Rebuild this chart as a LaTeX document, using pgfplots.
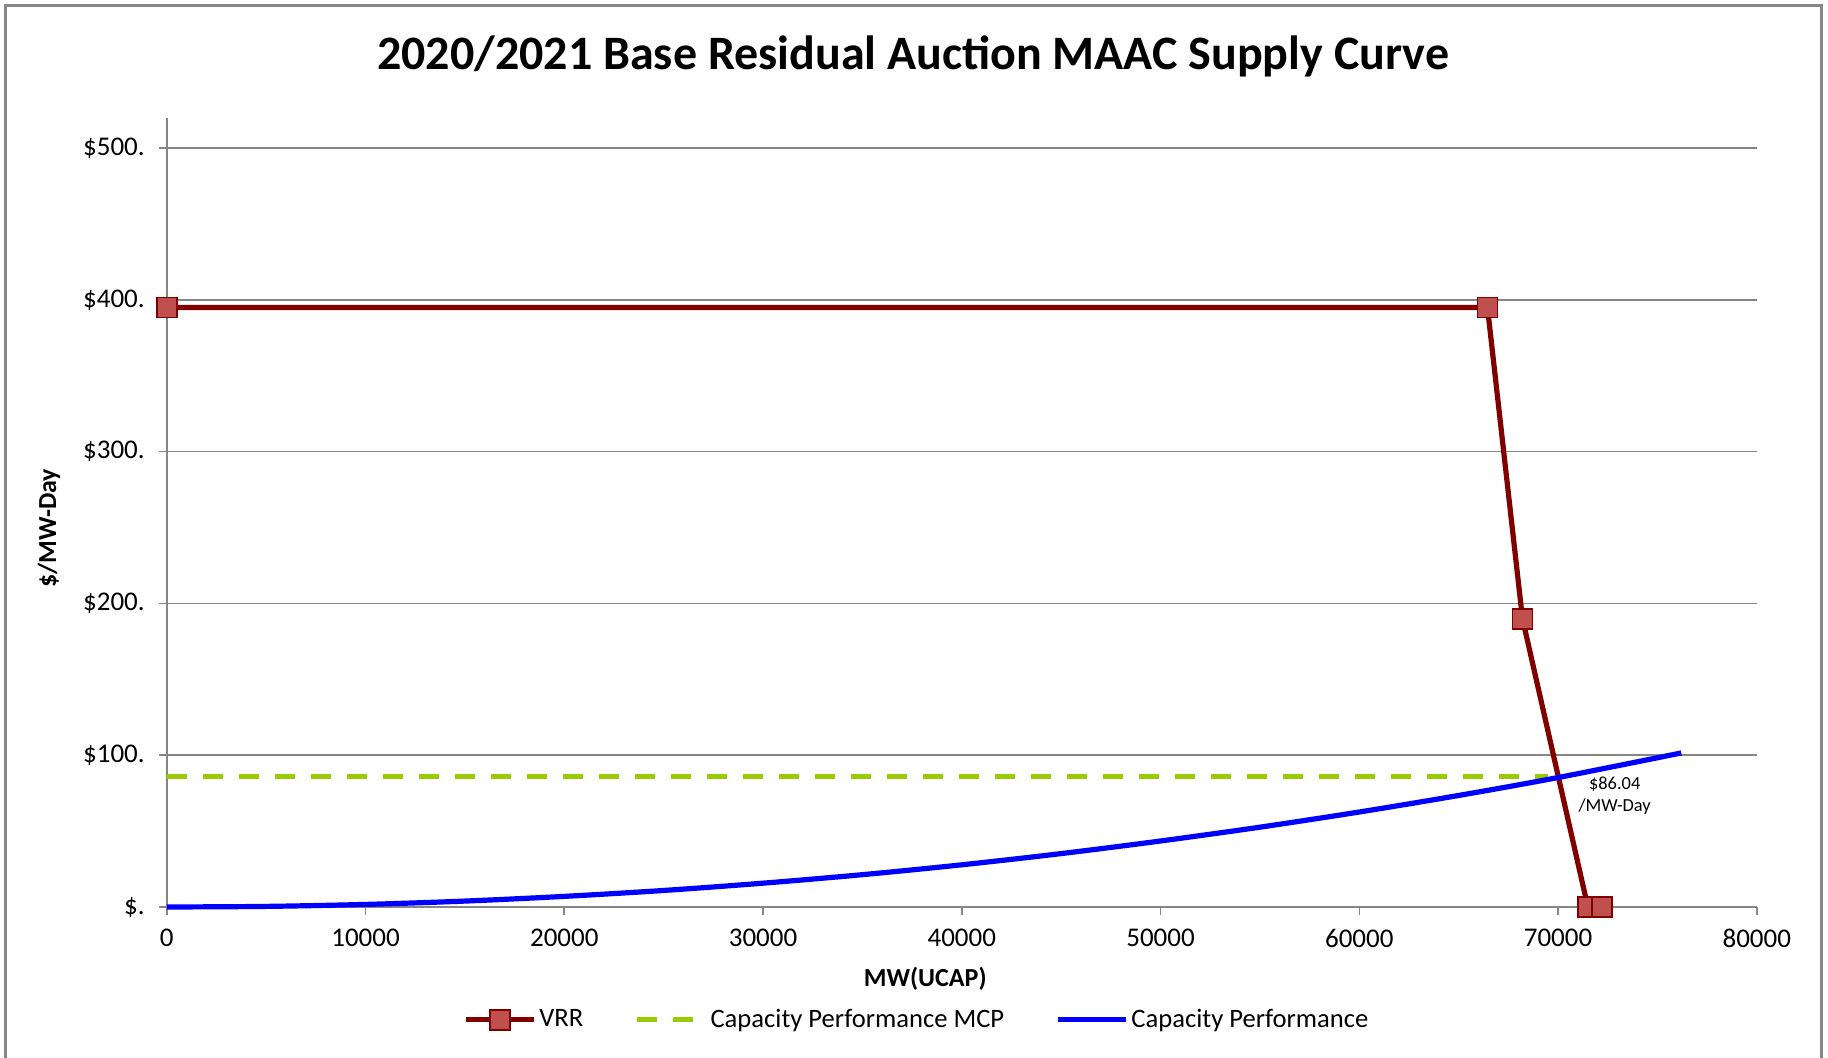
\documentclass[border=0pt]{standalone}
\usepackage{pgfplots}
\pgfplotsset{compat=1.18}
\usepackage{fontspec}
\setmainfont{Carlito}
\definecolor{vrr}{HTML}{800000}
\definecolor{vrrfill}{HTML}{C0504D}
\definecolor{mcp}{HTML}{99CC00}
\definecolor{cp}{HTML}{0000FF}
\definecolor{gridgray}{HTML}{868686}
\begin{document}
\begin{tikzpicture}[x=1pt,y=1pt]
\useasboundingbox (0,0) rectangle (914,528.5);
\draw[gridgray,line width=1.5pt] (2.9,-20) -- (2.9,525.6) -- (910.5,525.6) -- (910.5,-20);
\node[font=\fontsize{24}{28}\selectfont\bfseries] at (456.5,500.5) {2020/2021 Base Residual Auction MAAC Supply Curve};
\begin{axis}[
  at={(83.4pt,75pt)}, anchor=south west,
  width=795pt, height=394.6pt, scale only axis,
  xmin=0, xmax=80000, ymin=0, ymax=520,
  axis x line*=bottom, axis y line*=left,
  axis line style={gridgray, line width=0.8pt, -},
  xtick={0,10000,...,80000},
  ytick={0,100,200,300,400,500},
  yticklabels={\$.,\$100.,\$200.,\$300.,\$400.,\$500.},
  scaled x ticks=false,
  xticklabel={\pgfmathprintnumber[fixed,precision=0,1000 sep={}]{\tick}},
  tick style={gridgray, line width=0.8pt},
  tick align=outside, major tick length=4pt,
  ymajorgrids, grid style={gridgray, line width=0.8pt},
  ticklabel style={font=\fontsize{13.5}{15}\selectfont, text=black},
  yticklabel style={xshift=-3.5pt},
  xticklabel style={yshift=-3.5pt},
  /pgf/number format/assume math mode=true,
  xlabel={MW(UCAP)}, ylabel={\$/MW-Day},
  xlabel style={font=\fontsize{13}{15}\selectfont\bfseries, at={(axis description cs:0.477,-0.0905)}, anchor=center},
  ylabel style={font=\fontsize{13}{15}\selectfont\bfseries, at={(axis description cs:-0.074,0.48)}, anchor=center, rotate=0},
  legend columns=3,
  legend style={draw=none, fill=none, at={(axis description cs:0.472,-0.143)}, anchor=center,
    font=\fontsize{13.3}{15}\selectfont, inner sep=0pt,
    nodes={inner xsep=1.5pt},
    /tikz/every even column/.append style={column sep=24pt},
    /tikz/every odd column/.append style={column sep=0pt}},
  clip=false,
]
\addplot[vrr, line width=2.6pt, mark=square*, mark size=5pt,
  mark options={fill=vrrfill, draw=vrr, line width=0.9pt},
  legend image code/.code={\draw[mark repeat=2,mark phase=2] plot coordinates {(0pt,0pt) (17pt,0pt) (34pt,0pt)};}]
  coordinates {(0,395) (66450,395) (68210,190) (71500,0) (72200,0)};
\addlegendentry{VRR}
\addplot[mcp, line width=2.6pt, dash pattern=on 10pt off 8pt,
  legend image code/.code={\draw (0pt,0pt) -- (34pt,0pt);}]
  coordinates {(0,86.04) (69500,86.04)};
\addlegendentry{Capacity Performance MCP}
\addplot[cp, line width=2.6pt, smooth,
  legend image code/.code={\draw (0pt,0pt) -- (34pt,0pt);}]
  coordinates {(0,0) (5000,0.4) (10000,1.7) (15000,3.9) (20000,7.0) (25000,10.9) (30000,15.7) (35000,21.3) (40000,27.8) (45000,35.2) (50000,43.5) (55000,52.6) (60000,62.6) (65000,73.5) (70000,85.3) (76200,101.5)};
\addlegendentry{Capacity Performance}
\node[font=\fontsize{9.2}{11}\selectfont, align=center] at (axis cs:72850,73.5) {\$86.04\\/MW-Day};
\end{axis}
\end{tikzpicture}
\end{document}
